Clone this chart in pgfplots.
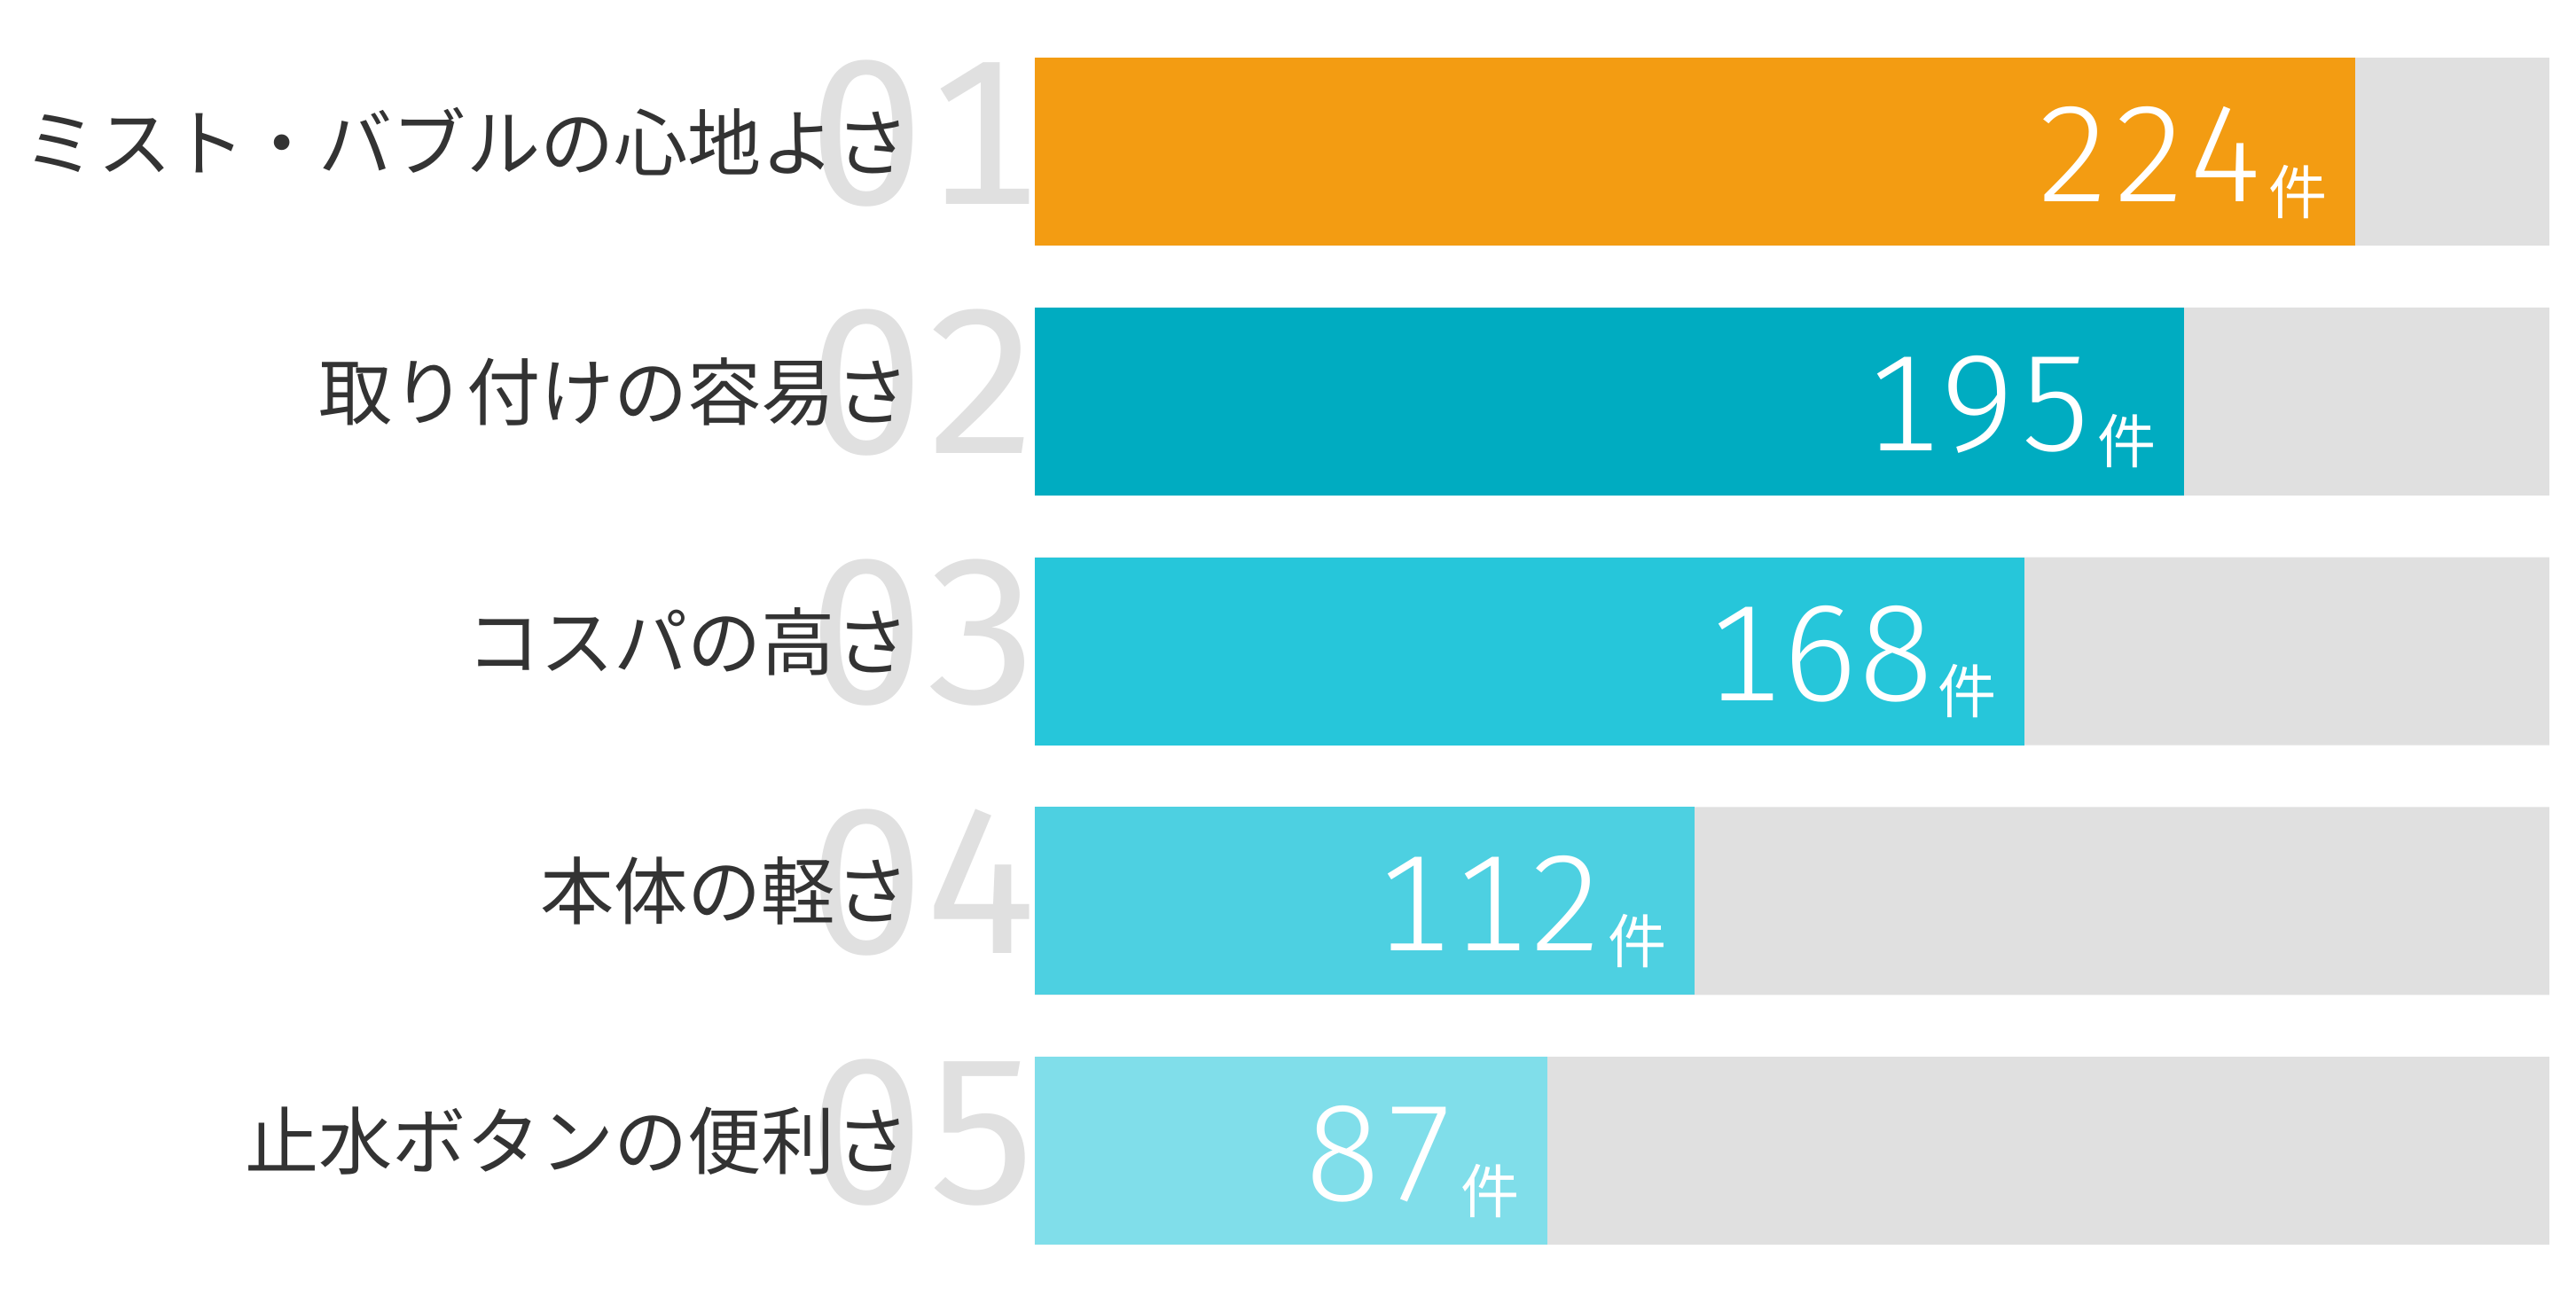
\documentclass[border=0pt]{standalone}
\usepackage{pgfplots}
\pgfplotsset{compat=1.18}
\usepackage{fontspec}
\newfontfamily\cjk{Noto Sans CJK JP}
\newfontfamily\rankfont{Fira Sans}[Numbers={Lining,Monospaced}]
\newfontfamily\numfont{Fira Sans Light}[Numbers={Lining,Monospaced}]
\definecolor{c1}{HTML}{F39C12}
\definecolor{c2}{HTML}{00ACC1}
\definecolor{c3}{HTML}{26C6DA}
\definecolor{c4}{HTML}{4DD0E1}
\definecolor{c5}{HTML}{80DEEA}
\definecolor{track}{HTML}{E0E0E0}
\definecolor{rankgrey}{HTML}{E0E0E0}
\definecolor{labelgrey}{HTML}{333333}

\pgfplotsset{
  rankbase/.style={
    width=427pt, height=334.75pt, scale only axis,
    at={(0,0)}, anchor=south west,
    xmin=0, xmax=257, ymin=-0.3762, ymax=4.3762,
    y dir=reverse,
    axis line style={draw=none},
    xtick=\empty, ytick={0,1,2,3,4},
    major tick length=0pt,
    ytick style={draw=none},
  },
  valbar/.style={
    xbar, bar width=53pt, bar shift=0pt, draw=none, fill=#1,
    point meta=explicit symbolic,
    nodes near coords={\numfont\fontsize{38.5pt}{38.5pt}\selectfont\pgfplotspointmeta\hspace{1pt}\raisebox{-3.5pt}{\cjk\fontsize{16.5pt}{16.5pt}\selectfont 件}},
    every node near coord/.append style={anchor=base east, inner sep=0pt,
      xshift=-7.7pt, yshift=-14pt, text=white},
  },
}

\begin{document}
\begin{tikzpicture}
\useasboundingbox (-291.75pt,-16.5pt) rectangle (434.5pt,351pt);

% big rank numbers behind the labels
\begin{axis}[rankbase,
  yticklabels={01,02,03,04,05},
  yticklabel style={anchor=base east, inner sep=0pt, xshift=1.5pt, yshift=-14.75pt,
    text=rankgrey, font=\rankfont\fontsize{58pt}{58pt}\selectfont},
]
\addplot[draw=none, forget plot] coordinates {(0,0)};
\end{axis}

\begin{axis}[rankbase,
  yticklabels={ミスト・バブルの心地よさ,取り付けの容易さ,コスパの高さ,本体の軽さ,止水ボタンの便利さ},
  yticklabel style={anchor=east, inner sep=0pt, xshift=-35.2pt, yshift=2.75pt,
    text=labelgrey, font=\cjk\fontsize{20.8pt}{20.8pt}\selectfont},
]
% grey track
\addplot[xbar, bar width=53pt, bar shift=0pt, draw=none, fill=track]
  coordinates {(257,0) (257,1) (257,2) (257,3) (257,4)};
\addplot[valbar=c1] coordinates {(224,0) [224]};
\addplot[valbar=c2] coordinates {(195,1) [195]};
\addplot[valbar=c3] coordinates {(168,2) [168]};
\addplot[valbar=c4] coordinates {(112,3) [112]};
\addplot[valbar=c5] coordinates {(87,4) [87]};
\end{axis}
\end{tikzpicture}
\end{document}
